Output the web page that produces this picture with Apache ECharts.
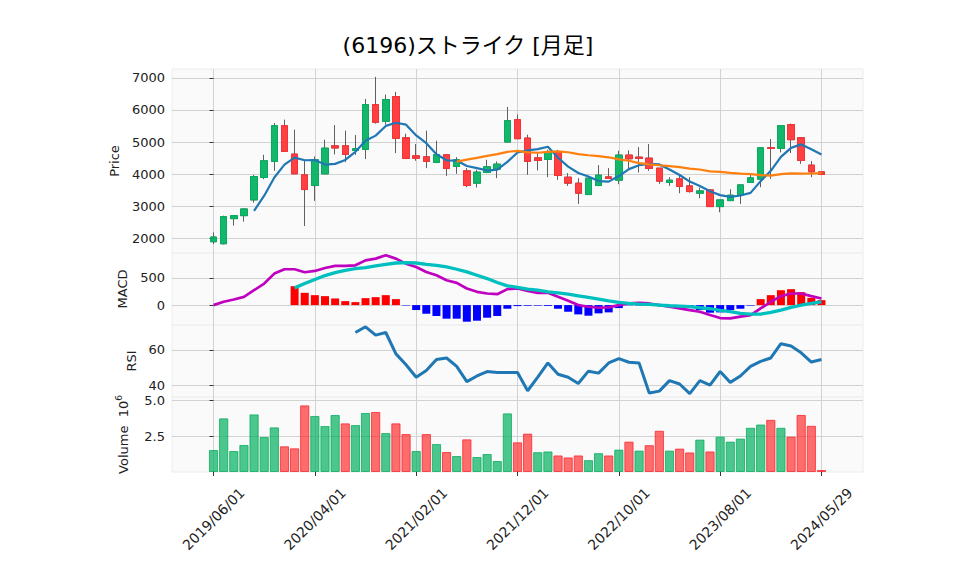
<!DOCTYPE html>
<html><head><meta charset="utf-8">
<script src="https://cdn.jsdelivr.net/npm/echarts@6/dist/echarts.min.js"></script>
<style>html,body{margin:0;padding:0;background:#fff}#c{width:958px;height:575px}</style>
</head><body><div id="c"></div><script>
// ---- data ----
const dates = [
 '2019/06/01','2019/07/01','2019/08/01','2019/09/01','2019/10/01','2019/11/01','2019/12/01',
 '2020/01/01','2020/02/01','2020/03/01','2020/04/01','2020/05/01','2020/06/01','2020/07/01','2020/08/01','2020/09/01','2020/10/01','2020/11/01','2020/12/01',
 '2021/01/01','2021/02/01','2021/03/01','2021/04/01','2021/05/01','2021/06/01','2021/07/01','2021/08/01','2021/09/01','2021/10/01','2021/11/01','2021/12/01',
 '2022/01/01','2022/02/01','2022/03/01','2022/04/01','2022/05/01','2022/06/01','2022/07/01','2022/08/01','2022/09/01','2022/10/01','2022/11/01','2022/12/01',
 '2023/01/01','2023/02/01','2023/03/01','2023/04/01','2023/05/01','2023/06/01','2023/07/01','2023/08/01','2023/09/01','2023/10/01','2023/11/01','2023/12/01',
 '2024/01/01','2024/02/01','2024/03/01','2024/04/01','2024/05/01','2024/05/29'];
const opens  = [1896,1833,2615,2708,3198,3896,4396,5510,4625,3979,3646,4010,4885,4885,4740,4771,6167,5646,6417,5135,4573,4542,4365,4604,4240,4104,3719,4052,4156,5000,5698,5125,4510,4458,4688,3906,3719,3365,3646,3917,3812,4594,4531,4500,4188,3740,3854,3635,3406,3510,2990,3177,3354,3740,3844,4823,4802,5542,5135,4281,4073];
const highs  = [2188,2708,2708,2937,3979,4604,5594,5698,5385,4448,4552,5073,5531,5354,5219,6344,7031,6479,6563,5260,4938,5354,5042,4604,4531,4188,4135,4448,4396,6094,5854,5229,4656,4760,4760,4031,3875,3906,4281,4188,4729,4740,4844,4938,4188,3906,3979,3906,3583,3510,3198,3531,3667,4000,4823,5094,5510,5573,5156,4406,4073];
const lows   = [1823,1812,2396,2521,3115,3844,4104,4688,4010,2385,3167,4000,4615,4375,4604,4469,5573,5542,4656,4480,4417,4188,4344,3948,4010,3594,3583,4031,3875,5000,5104,3979,4115,3906,3823,3635,3073,3365,3646,3854,3688,4135,4052,4104,3698,3635,3406,3427,3250,2990,2813,3177,3073,3740,3594,3854,4677,4656,4323,3906,3990];
const closes = [2042,2677,2708,2917,3927,4417,5510,4708,4010,3521,4448,4810,4815,4615,4792,6167,5615,6323,5115,4490,4495,4396,4604,4177,4448,3646,4063,4229,4313,5667,5104,4396,4427,4677,3958,3719,3406,3875,3969,3865,4594,4479,4490,4177,3781,3812,3615,3458,3479,2990,3198,3344,3667,3885,4823,4802,5510,5073,4427,4073,3990];
const volumes = [1.54,3.76,1.47,1.89,4.04,2.45,3.13,1.80,1.66,4.67,3.93,3.22,4.00,3.41,3.29,4.14,4.21,2.73,3.41,2.66,1.47,2.66,1.96,1.40,1.12,2.29,1.05,1.26,0.77,4.11,2.08,2.69,1.39,1.44,1.16,1.02,1.16,0.83,1.32,1.16,1.57,2.13,1.50,1.88,2.89,1.50,1.64,1.37,2.27,1.44,2.48,2.13,2.34,3.10,3.33,3.66,3.10,2.48,4.00,3.24,0.14];
const macdValues = [0,61,104,152,274,396,579,659,659,604,628,683,720,720,732,823,854,915,854,762,701,610,549,457,408,305,244,213,201,293,305,262,226,226,152,79,0,-30,-49,-43,0,30,43,30,0,-30,-61,-91,-122,-183,-238,-244,-213,-183,-61,61,165,213,213,165,122];
const signalValues = [null,null,null,null,null,null,null,null,317,396,470,543,598,640,671,689,720,750,774,780,774,750,732,701,659,610,549,488,415,354,325,293,274,244,226,201,171,140,110,79,49,30,18,12,0,-12,-18,-30,-49,-67,-98,-122,-152,-165,-165,-134,-91,-43,0,30,61];
const histValues = [null,null,null,null,null,null,null,null,348,226,183,165,122,73,55,128,146,183,110,-8,-91,-159,-201,-250,-250,-305,-287,-232,-201,-67,-18,-12,-10,-15,-67,-122,-171,-195,-152,-134,-55,-5,-6,-6,-8,-10,-12,-15,-91,-140,-134,-91,-67,-10,110,183,274,293,238,134,91];
const rsiValues = [null,null,null,null,null,null,null,null,null,null,null,null,null,null,69.7,72.9,68.2,69.7,57.7,51.6,44.6,48.4,54.5,55.4,50.7,42.1,45.3,47.8,47.2,47.2,47.2,37.0,44.6,52.6,46.3,44.6,41.1,48.0,46.9,52.6,55.0,53.0,52.6,35.8,36.8,42.7,40.8,35.4,42.7,40.2,47.8,41.7,45.3,50.7,53.5,55.4,63.4,62.1,58.3,53.1,54.5];
const xTickIndex = [0,10,20,30,40,50,60];
const priceTicks = [2000,3000,4000,5000,6000,7000];
const macdTicks = [0,500];
const rsiTicks = [40,60];
const volTicks = [2.5,5.0];
const titleText = '(6196)ストライク [月足]';

// ---- helpers ----
function sma(arr, n){ return arr.map((_, i) => i < n-1 ? null : arr.slice(i-n+1, i+1).reduce((a,b)=>a+b,0)/n); }
const ma5 = sma(closes, 5), ma25 = sma(closes, 25);
const idx = closes.map((_, i) => i);
const FONT = "'DejaVu Sans', 'Noto Sans CJK JP', sans-serif";
const UP = '#00b060', DOWN = '#fe3032';
const XMIN = -4.1, XMAX = 64.1, LEFT = 172, WIDTH = 691;
const grids = [
  {left: LEFT, width: WIDTH, top: 69, height: 184},
  {left: LEFT, width: WIDTH, top: 253, height: 72},
  {left: LEFT, width: WIDTH, top: 325, height: 72},
  {left: LEFT, width: WIDTH, top: 397, height: 75}
].map(g => Object.assign(g, {show: true, backgroundColor: '#fafafa', borderColor: '#ececec', borderWidth: 1}));
const GRIDLINE = {show: true, lineStyle: {color: '#d2d2d2', width: 1}};

function xAx(gi, show){
  return {type: 'value', gridIndex: gi, min: XMIN, max: XMAX,
    axisLine: {show: false},
    axisTick: {show: show, customValues: xTickIndex, length: 4, lineStyle: {color: '#333'}},
    axisLabel: {show: show, customValues: xTickIndex, formatter: v => dates[Math.round(v)] || '', rotate: 45,
      align: 'center', verticalAlign: 'middle',
      fontSize: 14, color: '#222', margin: 47, fontFamily: FONT},
    splitLine: GRIDLINE};
}
function yAx(gi, min, max, ticks, name, gap, fmt, rich){
  return {type: 'value', gridIndex: gi, min: min, max: max,
    axisLine: {show: false},
    axisTick: {show: true, customValues: ticks, length: 4, lineStyle: {color: '#333'}},
    axisLabel: {customValues: ticks, fontSize: 13, color: '#222', margin: 7, fontFamily: FONT, formatter: fmt},
    splitLine: GRIDLINE,
    name: name, nameLocation: 'middle', nameGap: gap, nameRotate: 90,
    nameTextStyle: {fontSize: 13, color: '#222', fontFamily: FONT, rich: rich}};
}

const wickData = idx.map(i => [i, opens[i], closes[i], lows[i], highs[i]]);
const bodyData = idx.map(i => [i, opens[i], closes[i], Math.min(opens[i], closes[i]), Math.max(opens[i], closes[i])]);
const volData = idx.map(i => {
  const up = i === 0 ? closes[i] >= opens[i] : closes[i] >= closes[i-1];
  return {value: [i, volumes[i]], itemStyle: {color: up ? 'rgba(0,176,96,0.7)' : 'rgba(254,48,50,0.7)', borderColor: up ? 'rgba(0,170,90,0.75)' : 'rgba(250,40,45,0.8)'}};
});
const histData = idx.filter(i => histValues[i] !== null).map(i => ({value: [i, histValues[i]], itemStyle: {color: histValues[i] >= 0 ? '#ff0000' : '#0000ff'}}));
const pair = arr => idx.map(i => [i, arr[i]]);

const option = {
  animation: false,
  backgroundColor: '#ffffff',
  textStyle: {fontFamily: FONT},
  grid: grids,
  graphic: [{type: 'text', x: 468, y: 45, style: {text: titleText, fontSize: 22, fill: '#000', fontFamily: FONT, align: 'center', verticalAlign: 'middle'}}],
  xAxis: [xAx(0, false), xAx(1, false), xAx(2, false), xAx(3, true)],
  yAxis: [
    yAx(0, 1545, 7275, priceTicks, 'Price', 45, v => String(v)),
    yAx(1, -366, 958, macdTicks, 'MACD', 41, v => String(v)),
    yAx(2, 33.5, 73.9, rsiTicks, 'RSI', 34, v => String(v)),
    yAx(3, 0, 5.26, volTicks, 'Volume  {b|10}{p|6}', 40, v => v.toFixed(1), {b: {fontSize: 13, color: '#222'}, p: {fontSize: 9, color: '#222', padding: [0, 0, 9, 0]}})
  ],
  series: [
    {type: 'candlestick', xAxisIndex: 0, yAxisIndex: 0, data: wickData, encode: {x: 0, y: [1,2,3,4]}, barWidth: 7,
      itemStyle: {color: 'transparent', color0: 'transparent', borderColor: '#606060', borderColor0: '#606060', borderWidth: 1}},
    {type: 'candlestick', xAxisIndex: 0, yAxisIndex: 0, data: bodyData, encode: {x: 0, y: [1,2,3,4]}, barWidth: 7,
      itemStyle: {color: UP, color0: DOWN, borderColor: UP, borderColor0: DOWN, borderWidth: 1, opacity: 0.92}},
    {type: 'line', xAxisIndex: 0, yAxisIndex: 0, data: pair(ma5), showSymbol: false, symbol: 'none', lineStyle: {color: '#1f77b4', width: 2.2}},
    {type: 'line', xAxisIndex: 0, yAxisIndex: 0, data: pair(ma25), showSymbol: false, symbol: 'none', lineStyle: {color: '#ff7f0e', width: 2.2}},
    {type: 'bar', xAxisIndex: 1, yAxisIndex: 1, data: histData, barWidth: 8},
    {type: 'line', xAxisIndex: 1, yAxisIndex: 1, data: pair(macdValues), symbol: 'none', lineStyle: {color: '#bf00bf', width: 2.7}},
    {type: 'line', xAxisIndex: 1, yAxisIndex: 1, data: pair(signalValues), symbol: 'none', lineStyle: {color: '#00bfbf', width: 3.3}},
    {type: 'line', xAxisIndex: 2, yAxisIndex: 2, data: pair(rsiValues), symbol: 'none', lineStyle: {color: '#1f77b4', width: 3}},
    {type: 'bar', xAxisIndex: 3, yAxisIndex: 3, data: volData, barWidth: 9.2, itemStyle: {borderWidth: 1}}
  ]
};
const chart = echarts.init(document.getElementById('c'), null, {renderer: 'svg', width: 958, height: 575});
chart.setOption(option);
</script></body></html>
